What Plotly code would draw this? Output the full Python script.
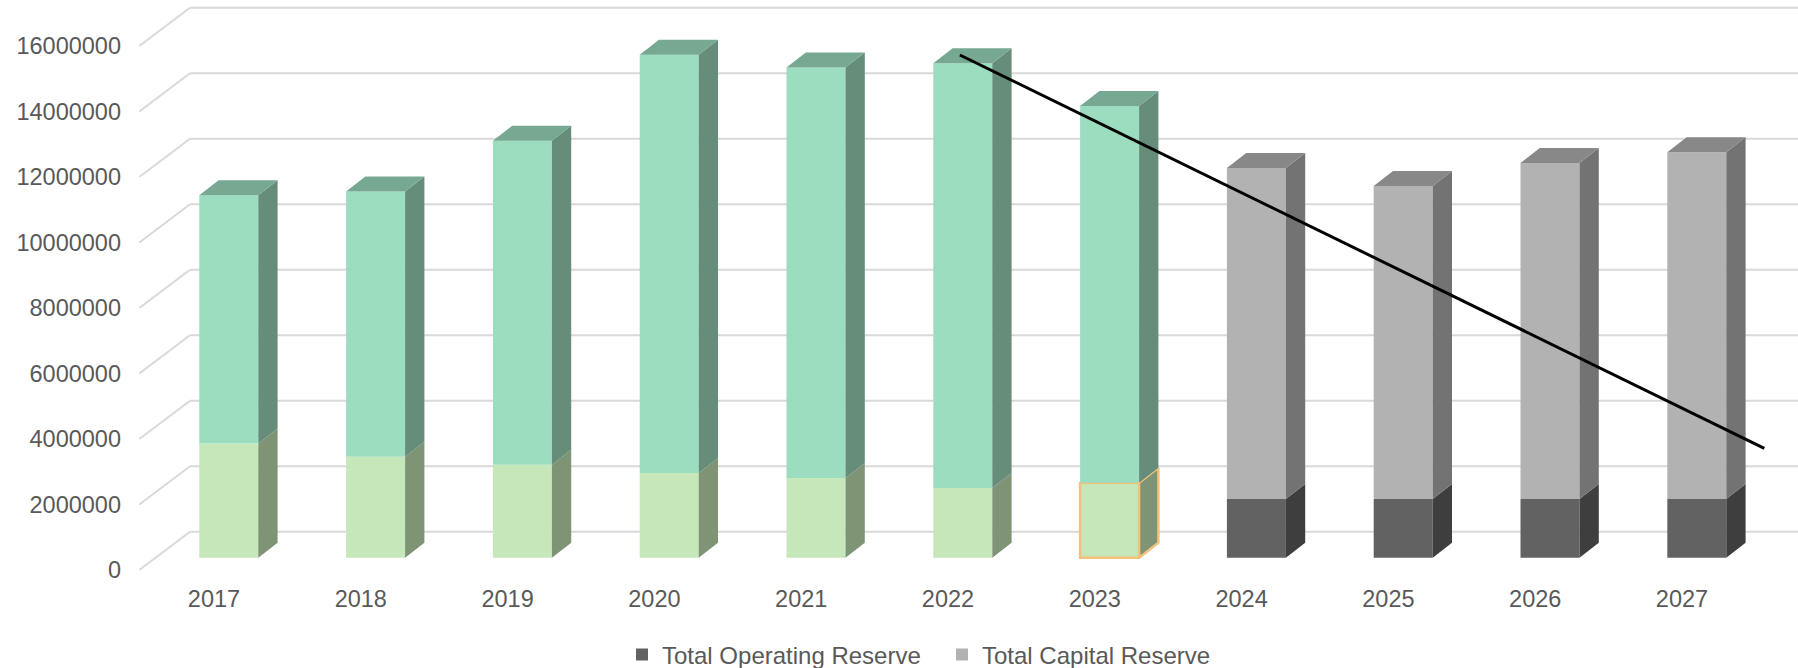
import plotly.graph_objects as go

# ---------------- data ----------------
years = ["2017", "2018", "2019", "2020", "2021", "2022", "2023",
         "2024", "2025", "2026", "2027"]
operating_reserve = [3.49e6, 3.08e6, 2.84e6, 2.59e6, 2.43e6, 2.13e6, 2.29e6,
                     1.79e6, 1.79e6, 1.79e6, 1.79e6]
capital_reserve = [7.58e6, 8.10e6, 9.89e6, 12.77e6, 12.54e6, 12.97e6, 11.50e6,
                   10.11e6, 9.56e6, 10.26e6, 10.59e6]
actual_years = ["2017", "2018", "2019", "2020", "2021", "2022", "2023"]
highlight_year = "2023"
trend_years = [2021.98, 2027.46]
trend_values = [15.35e6, 3.34e6]
y_tick_values = [0, 2000000, 4000000, 6000000, 8000000, 10000000,
                 12000000, 14000000, 16000000]

# ---------------- geometry (pixels -> axis units) ----------------
W, H = 1798, 668
PLOT_L, PLOT_R, PLOT_T, PLOT_B = 122, 1798, 0, 580
CAT_PX = 146.8            # px per category
VAL_PX = 32.75 / 1e6      # px per value unit
LABEL_X0 = 214            # px of first category label centre
LABEL_Y0 = 570            # px of value 0 in the front (label) plane


def ux(px):
    return px / CAT_PX


def uv(px):
    return px / VAL_PX


x_range = [ux(PLOT_L - LABEL_X0), ux(PLOT_R - LABEL_X0)]
y_range = [uv(LABEL_Y0 - PLOT_B), uv(LABEL_Y0 - PLOT_T)]

BAR_OFF_X = ux(14.8)
BAR_OFF_V = uv(12.3)
BAR_W = ux(59)
DEPTH_X = ux(19.3)
DEPTH_V = uv(15)
WALL_FRONT_X = ux(139.3 - LABEL_X0)
WALL_BACK_X = ux(190 - LABEL_X0)
WALL_V = uv(38.3)

# ---------------- colours ----------------
GREEN_LOW, GREEN_LOW_SIDE = "#C6E7B9", "#7F9375"
MINT, MINT_SIDE, MINT_TOP = "#9CDDC0", "#658D79", "#76A892"
DARK, DARK_SIDE = "#626262", "#3E3E3E"
LIGHT, LIGHT_SIDE, LIGHT_TOP = "#B2B2B2", "#737373", "#888888"
ORANGE = "#F2C27B"
GRID = "#D9D9D9"
TEXT = "#595959"
FONT = "Liberation Sans, Arial, sans-serif"

fig = go.Figure()

# back-wall gridlines (drawn below the bars)
shapes = []
for v in y_tick_values:
    shapes.append(dict(type="line", xref="x", yref="y", layer="below",
                       x0=WALL_FRONT_X, y0=v, x1=WALL_BACK_X, y1=v + WALL_V,
                       line=dict(color=GRID, width=2)))
    shapes.append(dict(type="line", xref="x", yref="y", layer="below",
                       x0=WALL_BACK_X, y0=v + WALL_V, x1=x_range[1], y1=v + WALL_V,
                       line=dict(color=GRID, width=2)))

idx_actual = [i for i, y in enumerate(years) if y in actual_years]
idx_plan = [i for i, y in enumerate(years) if y not in actual_years]


def add_bars(idx, name, values, bases, color, showlegend, line_col=None, line_w=None):
    fig.add_trace(go.Bar(
        x=[i + BAR_OFF_X for i in idx],
        y=[values[i] for i in idx],
        base=[bases[i] + BAR_OFF_V for i in idx],
        width=BAR_W,
        name=name,
        showlegend=showlegend,
        marker=dict(color=color,
                    line=dict(color=line_col if line_col else color,
                              width=line_w if line_w else 0)),
        hoverinfo="skip",
    ))


zeros = [0] * len(years)
hl = [1 if y == highlight_year else 0 for y in years]
add_bars(idx_actual, "Actual Operating Reserve", operating_reserve, zeros, GREEN_LOW, False,
         line_col=[ORANGE if hl[i] else GREEN_LOW for i in idx_actual],
         line_w=[2.5 if hl[i] else 0 for i in idx_actual])
add_bars(idx_actual, "Actual Capital Reserve", capital_reserve, operating_reserve, MINT, False)
add_bars(idx_plan, "Total Operating Reserve", operating_reserve, zeros, DARK, True)
add_bars(idx_plan, "Total Capital Reserve", capital_reserve, operating_reserve, LIGHT, True)


def side_poly(i, b, t):
    xr = i + BAR_OFF_X + BAR_W / 2
    b += BAR_OFF_V
    t += BAR_OFF_V
    return [xr, xr + DEPTH_X, xr + DEPTH_X, xr, xr, None], \
           [b, b + DEPTH_V, t + DEPTH_V, t, b, None]


def top_poly(i, t):
    xl = i + BAR_OFF_X - BAR_W / 2
    xr = i + BAR_OFF_X + BAR_W / 2
    t += BAR_OFF_V
    return [xl, xl + DEPTH_X, xr + DEPTH_X, xr, xl, None], \
           [t, t + DEPTH_V, t + DEPTH_V, t, t, None]


def add_faces(polys, color, line_color=None, line_width=0):
    xs, ys = [], []
    for px, py in polys:
        xs += px
        ys += py
    fig.add_trace(go.Scatter(
        x=xs, y=ys, mode="lines", fill="toself", fillcolor=color,
        line=dict(color=line_color if line_color else color, width=line_width),
        showlegend=False, hoverinfo="skip"))


totals = [o + c for o, c in zip(operating_reserve, capital_reserve)]

add_faces([side_poly(i, 0, operating_reserve[i]) for i in idx_actual if not hl[i]], GREEN_LOW_SIDE)
add_faces([side_poly(i, 0, operating_reserve[i]) for i in idx_actual if hl[i]], GREEN_LOW_SIDE,
          line_color=ORANGE, line_width=2.5)
add_faces([side_poly(i, operating_reserve[i], totals[i]) for i in idx_actual], MINT_SIDE)
add_faces([top_poly(i, totals[i]) for i in idx_actual], MINT_TOP)
add_faces([side_poly(i, 0, operating_reserve[i]) for i in idx_plan], DARK_SIDE)
add_faces([side_poly(i, operating_reserve[i], totals[i]) for i in idx_plan], LIGHT_SIDE)
add_faces([top_poly(i, totals[i]) for i in idx_plan], LIGHT_TOP)

# trend line
first_year = int(years[0])
fig.add_trace(go.Scatter(
    x=[ty - first_year + BAR_OFF_X for ty in trend_years],
    y=[tv + BAR_OFF_V for tv in trend_values],
    mode="lines", line=dict(color="#000000", width=3),
    showlegend=False, hoverinfo="skip"))

legend_x = (622 - PLOT_L) / (PLOT_R - PLOT_L)
legend_y = (PLOT_B - 655) / (PLOT_B - PLOT_T)

fig.update_layout(
    width=W, height=H,
    margin=dict(l=PLOT_L, r=W - PLOT_R, t=PLOT_T, b=H - PLOT_B, pad=0,
                autoexpand=False),
    paper_bgcolor="white", plot_bgcolor="white",
    barmode="overlay",
    shapes=shapes,
    font=dict(family=FONT, color=TEXT, size=23),
    xaxis=dict(range=x_range, tickmode="array",
               tickvals=list(range(len(years))), ticktext=years,
               showgrid=False, zeroline=False, showline=False, ticks="",
               automargin=False, ticklabelstandoff=2,
               tickfont=dict(size=23.5, color=TEXT, family=FONT)),
    yaxis=dict(range=y_range, tickmode="array",
               tickvals=y_tick_values, ticktext=[str(v) for v in y_tick_values],
               showgrid=False, zeroline=False, showline=False, ticks="",
               automargin=False,
               tickfont=dict(size=23.5, color=TEXT, family=FONT)),
    legend=dict(orientation="h", x=legend_x, xanchor="left",
                y=legend_y, yanchor="middle",
                entrywidth=275, entrywidthmode="pixels",
                font=dict(size=24, color=TEXT, family=FONT),
                bgcolor="rgba(0,0,0,0)"),
)

fig.write_html("out.html")
